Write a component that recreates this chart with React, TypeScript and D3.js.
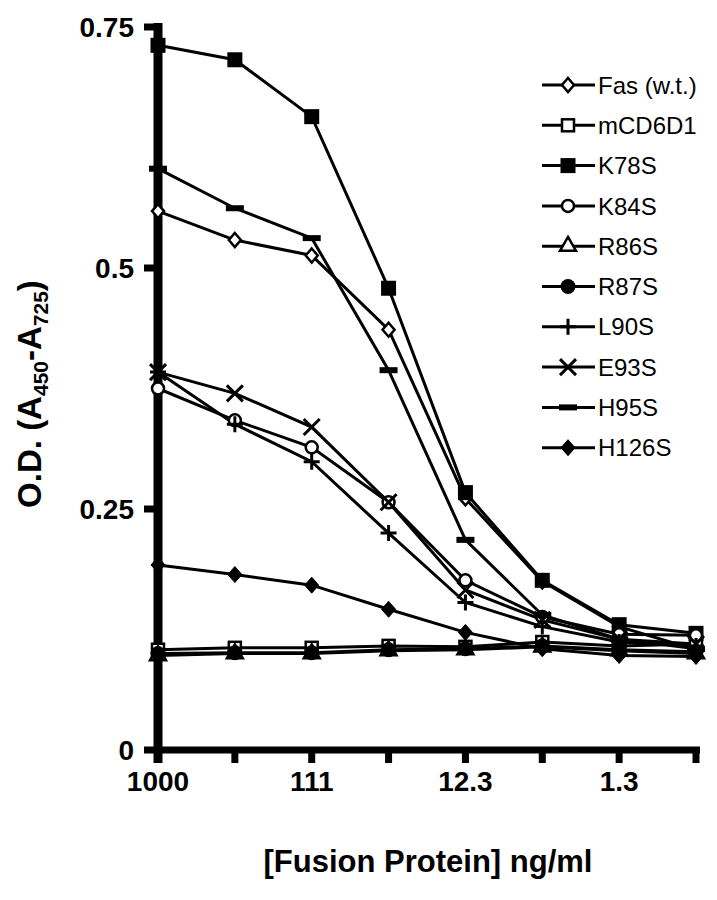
import React, { useEffect, useRef } from 'react';
import * as d3 from 'd3';

// x categories (serial dilutions, ng/ml)
const concentrations = ['1000', '333', '111', '37', '12.3', '4.1', '1.3', '0.46'];
const labeledTicks = ['1000', '111', '12.3', '1.3'];
const yTicks = [0, 0.25, 0.5, 0.75];

const fasWT = [0.559, 0.529, 0.513, 0.436, 0.261, 0.175, 0.128, 0.104];
const mCD6D1 = [0.104, 0.106, 0.106, 0.108, 0.107, 0.112, 0.108, 0.110];
const k78S = [0.731, 0.716, 0.657, 0.479, 0.267, 0.176, 0.130, 0.121];
const k84S = [0.375, 0.342, 0.314, 0.257, 0.176, 0.138, 0.120, 0.119];
const r86S = [0.098, 0.100, 0.100, 0.103, 0.104, 0.107, 0.103, 0.100];
const r87S = [0.100, 0.101, 0.101, 0.104, 0.105, 0.108, 0.104, 0.102];
const l90S = [0.392, 0.338, 0.299, 0.225, 0.153, 0.128, 0.112, 0.108];
const e93S = [0.392, 0.370, 0.335, 0.257, 0.166, 0.135, 0.115, 0.110];
const h95S = [0.603, 0.562, 0.531, 0.394, 0.218, 0.140, 0.115, 0.105];
const h126S = [0.192, 0.182, 0.171, 0.146, 0.122, 0.105, 0.098, 0.097];

type Marker = 'diamondOpen' | 'squareOpen' | 'squareFilled' | 'circleOpen' | 'triangleOpen' |
  'circleFilled' | 'plus' | 'cross' | 'dash' | 'diamondFilled';

const series: { name: string; values: number[]; marker: Marker }[] = [
  { name: 'Fas (w.t.)', values: fasWT, marker: 'diamondOpen' },
  { name: 'mCD6D1', values: mCD6D1, marker: 'squareOpen' },
  { name: 'K78S', values: k78S, marker: 'squareFilled' },
  { name: 'K84S', values: k84S, marker: 'circleOpen' },
  { name: 'R86S', values: r86S, marker: 'triangleOpen' },
  { name: 'R87S', values: r87S, marker: 'circleFilled' },
  { name: 'L90S', values: l90S, marker: 'plus' },
  { name: 'E93S', values: e93S, marker: 'cross' },
  { name: 'H95S', values: h95S, marker: 'dash' },
  { name: 'H126S', values: h126S, marker: 'diamondFilled' },
];

const FONT = '"Liberation Sans", Arial, Helvetica, sans-serif';

function drawMarker(g: d3.Selection<SVGGElement, unknown, null, undefined>, type: Marker, x: number, y: number) {
  switch (type) {
    case 'diamondOpen':
      g.append('path').attr('d', 'M0,-7L6,0L0,7L-6,0Z').attr('transform', `translate(${x},${y})`)
        .attr('fill', '#fff').attr('stroke', '#000').attr('stroke-width', 2.5);
      break;
    case 'diamondFilled':
      g.append('path').attr('d', 'M0,-8L7,0L0,8L-7,0Z').attr('transform', `translate(${x},${y})`)
        .attr('fill', '#000').attr('stroke', '#000').attr('stroke-width', 1);
      break;
    case 'squareOpen':
      g.append('rect').attr('x', x - 6).attr('y', y - 6).attr('width', 12).attr('height', 12)
        .attr('fill', '#fff').attr('stroke', '#000').attr('stroke-width', 2.5);
      break;
    case 'squareFilled':
      g.append('rect').attr('x', x - 7.5).attr('y', y - 7.5).attr('width', 15).attr('height', 15)
        .attr('fill', '#000');
      break;
    case 'circleOpen':
      g.append('circle').attr('cx', x).attr('cy', y).attr('r', 6)
        .attr('fill', '#fff').attr('stroke', '#000').attr('stroke-width', 2.5);
      break;
    case 'circleFilled':
      g.append('circle').attr('cx', x).attr('cy', y).attr('r', 7.5).attr('fill', '#000');
      break;
    case 'triangleOpen':
      g.append('path').attr('d', d3.symbol(d3.symbolTriangle, 110)())
        .attr('transform', `translate(${x},${y})`)
        .attr('fill', '#fff').attr('stroke', '#000').attr('stroke-width', 2.5);
      break;
    case 'plus':
      g.append('path').attr('d', `M${x - 8},${y}H${x + 8}M${x},${y - 8}V${y + 8}`)
        .attr('stroke', '#000').attr('stroke-width', 3);
      break;
    case 'cross':
      g.append('path').attr('d', `M${x - 8},${y - 8}L${x + 8},${y + 8}M${x + 8},${y - 8}L${x - 8},${y + 8}`)
        .attr('stroke', '#000').attr('stroke-width', 3);
      break;
    case 'dash':
      g.append('rect').attr('x', x - 9).attr('y', y - 3).attr('width', 18).attr('height', 6).attr('fill', '#000');
      break;
  }
}

const App: React.FC = () => {
  const svgRef = useRef<SVGSVGElement>(null);

  useEffect(() => {
    if (!svgRef.current) return;
    const svg = d3.select(svgRef.current);
    svg.selectAll('*').remove();

    const x = d3.scalePoint<string>().domain(concentrations).range([158, 696]);
    const y = d3.scaleLinear().domain([0, 0.75]).range([750, 27]);

    const g = svg.append('g');

    // axes
    g.append('line').attr('x1', 158).attr('x2', 158).attr('y1', 23).attr('y2', 763)
      .attr('stroke', '#000').attr('stroke-width', 9);
    g.append('line').attr('x1', 154).attr('x2', 700).attr('y1', y(0)).attr('y2', y(0))
      .attr('stroke', '#000').attr('stroke-width', 7);

    yTicks.forEach(t => {
      g.append('line').attr('x1', 144).attr('x2', 158).attr('y1', y(t)).attr('y2', y(t))
        .attr('stroke', '#000').attr('stroke-width', 7);
      g.append('text').attr('x', 134).attr('y', y(t)).attr('dy', '0.36em')
        .attr('text-anchor', 'end').attr('font-family', FONT).attr('font-weight', 'bold')
        .attr('font-size', 28).text(t === 0 ? '0' : String(t));
    });

    concentrations.forEach(c => {
      g.append('line').attr('x1', x(c)!).attr('x2', x(c)!).attr('y1', y(0)).attr('y2', 763)
        .attr('stroke', '#000').attr('stroke-width', 7);
    });
    labeledTicks.forEach(c => {
      g.append('text').attr('x', x(c)!).attr('y', 791).attr('text-anchor', 'middle')
        .attr('font-family', FONT).attr('font-weight', 'bold').attr('font-size', 28).text(c);
    });

    g.append('text').attr('x', 428).attr('y', 872).attr('text-anchor', 'middle')
      .attr('font-family', FONT).attr('font-weight', 'bold').attr('font-size', 31)
      .text('[Fusion Protein] ng/ml');

    const yt = g.append('text').attr('transform', 'translate(41,394) rotate(-90)')
      .attr('text-anchor', 'middle').attr('font-family', FONT).attr('font-weight', 'bold')
      .attr('font-size', 33);
    yt.append('tspan').text('O.D. (A');
    yt.append('tspan').attr('font-size', 21).attr('dy', 7).text('450');
    yt.append('tspan').attr('dy', -7).text('-A');
    yt.append('tspan').attr('font-size', 21).attr('dy', 7).text('725');
    yt.append('tspan').attr('dy', -7).text(')');

    // series
    const line = d3.line<number>().x((_, i) => x(concentrations[i])!).y(d => y(d));
    series.forEach(s => {
      g.append('path').attr('d', line(s.values)).attr('fill', 'none')
        .attr('stroke', '#000').attr('stroke-width', 3);
    });
    series.forEach(s => {
      s.values.forEach((v, i) => drawMarker(g, s.marker, x(concentrations[i])!, y(v)));
    });

    // legend
    series.forEach((s, i) => {
      const ly = 85 + i * 40.3;
      g.append('line').attr('x1', 542).attr('x2', 595).attr('y1', ly).attr('y2', ly)
        .attr('stroke', '#000').attr('stroke-width', 3);
      drawMarker(g, s.marker, 568, ly);
      g.append('text').attr('x', 598).attr('y', ly).attr('dy', '0.36em')
        .attr('font-family', FONT).attr('font-size', 24).text(s.name);
    });
  }, []);

  return (
    <svg ref={svgRef} width={717} height={900}
      style={{ position: 'absolute', left: 0, top: 0, background: '#fff' }} />
  );
};

export default App;
